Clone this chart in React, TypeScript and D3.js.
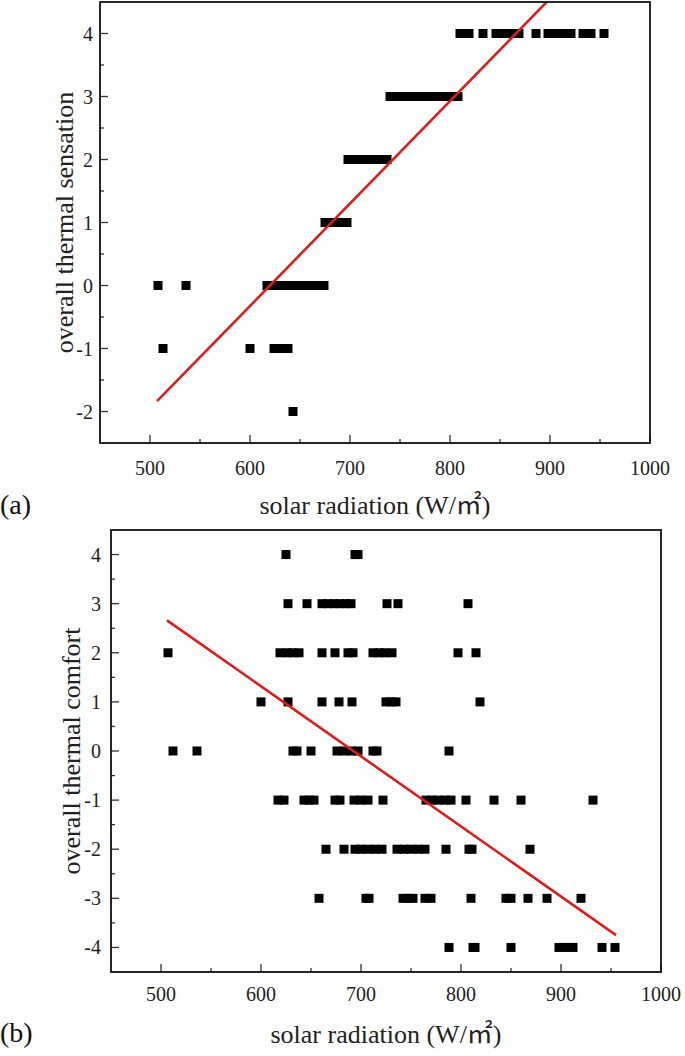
import React from "react";
import * as d3 from "d3";

// ---------- data ----------
const xTicks = [500, 600, 700, 800, 900, 1000];
const xMinorTicks = [550, 650, 750, 850, 950];
const sensationTicks = [-2, -1, 0, 1, 2, 3, 4];
const comfortTicks = [-4, -3, -2, -1, 0, 1, 2, 3, 4];

// (a) overall thermal sensation: solar radiation values per sensation level
const sensation4 = [810, 815, 819, 833, 846, 852, 858, 864, 869, 886, 898, 904, 910, 916, 921, 933, 937, 941, 954];
const sensation3 = [740, 746, 752, 758, 764, 770, 776, 782, 788, 794, 800, 806, 808];
const sensation2 = [698, 704, 710, 716, 722, 728, 734, 737];
const sensation1 = [675, 681, 687, 693, 697];
const sensation0 = [508, 536, 617, 623, 629, 635, 641, 647, 653, 659, 665, 671, 674];
const sensationM1 = [513, 600, 624, 631, 638];
const sensationM2 = [643];
const sensationLevels = [4, 3, 2, 1, 0, -1, -2];
const sensationRows = [sensation4, sensation3, sensation2, sensation1, sensation0, sensationM1, sensationM2];
const sensationFit = { slope: 0.01626, intercept: -10.08, x0: 507, x1: 955 };

// (b) overall thermal comfort
const comfort4 = [625, 694, 697];
const comfort3 = [627, 646, 661, 667, 673, 679, 685, 690, 726, 737, 807];
const comfort2 = [507, 619, 626, 632, 638, 661, 674, 687, 692, 712, 718, 724, 731, 797, 815];
const comfort1 = [600, 627, 661, 678, 691, 725, 730, 735, 819];
const comfort0 = [512, 536, 632, 636, 650, 676, 683, 690, 697, 712, 716, 788];
const comfortM1 = [617, 623, 643, 648, 653, 674, 679, 693, 700, 707, 722, 765, 771, 777, 784, 790, 805, 833, 860, 932];
const comfortM2 = [665, 683, 694, 700, 707, 714, 721, 736, 743, 750, 757, 764, 785, 808, 811, 869];
const comfortM3 = [658, 705, 708, 742, 747, 752, 764, 770, 810, 845, 850, 867, 886, 920];
const comfortM4 = [788, 812, 814, 850, 898, 905, 912, 941, 954];
const comfortLevels = [4, 3, 2, 1, 0, -1, -2, -3, -4];
const comfortRows = [comfort4, comfort3, comfort2, comfort1, comfort0, comfortM1, comfortM2, comfortM3, comfortM4];
const comfortFit = { slope: -0.01427, intercept: 9.88, x0: 506, x1: 955 };

const SERIF = '"Liberation Serif", "Times New Roman", "Noto Sans CJK SC", serif';

type PanelProps = {
  id: string;
  left: number;
  right: number;
  top: number;
  bottom: number;
  yDomain: [number, number];
  yTicks: number[];
  levels: number[];
  rows: number[][];
  fit: { slope: number; intercept: number; x0: number; x1: number };
  yTitle: string;
  yTitleX: number;
  yLabelX: number;
  xLabelY: number;
  xTitleY: number;
  tag: string;
  tagY: number;
};

function Panel(p: PanelProps) {
  const x = d3.scaleLinear().domain([450, 1000]).range([p.left, p.right]);
  const y = d3.scaleLinear().domain(p.yDomain).range([p.bottom, p.top]);
  const yMinor = p.yTicks.slice(0, -1).map((t) => t + 0.5);
  const lineGen = d3
    .line<number>()
    .x((v) => x(v))
    .y((v) => y(p.fit.slope * v + p.fit.intercept));
  const size = 9;
  const clipId = `clip-${p.id}`;
  return (
    <g>
      <defs>
        <clipPath id={clipId}>
          <rect x={p.left} y={p.top} width={p.right - p.left} height={p.bottom - p.top} />
        </clipPath>
      </defs>
      <g fill="#000">
        {p.rows.map((row, i) =>
          row.map((v, j) => (
            <rect key={`${i}-${j}`} x={x(v) - size / 2} y={y(p.levels[i]) - size / 2} width={size} height={size} />
          ))
        )}
      </g>
      <path
        d={lineGen([p.fit.x0, p.fit.x1]) || ""}
        stroke="#d81e1e"
        strokeWidth={2.6}
        fill="none"
        clipPath={`url(#${clipId})`}
      />
      <g stroke="#333" strokeWidth={1.3}>
        {p.yTicks.map((t) => (
          <line key={`yt${t}`} x1={p.left} x2={p.left + 8} y1={y(t)} y2={y(t)} />
        ))}
        {yMinor.map((t) => (
          <line key={`ym${t}`} x1={p.left} x2={p.left + 4} y1={y(t)} y2={y(t)} />
        ))}
        {xTicks.map((t) => (
          <line key={`xt${t}`} x1={x(t)} x2={x(t)} y1={p.bottom} y2={p.bottom - 8} />
        ))}
        {xMinorTicks.map((t) => (
          <line key={`xm${t}`} x1={x(t)} x2={x(t)} y1={p.bottom} y2={p.bottom - 4} />
        ))}
      </g>
      <rect
        x={p.left}
        y={p.top}
        width={p.right - p.left}
        height={p.bottom - p.top}
        fill="none"
        stroke="#111"
        strokeWidth={1.8}
      />
      <g fontFamily={SERIF} fontSize={20} fill="#222">
        {p.yTicks.map((t) => (
          <text key={`yl${t}`} x={p.yLabelX} y={y(t)} dy="0.35em" textAnchor="end">
            {t}
          </text>
        ))}
        {xTicks.map((t) => (
          <text key={`xl${t}`} x={x(t)} y={p.xLabelY} textAnchor="middle">
            {t}
          </text>
        ))}
      </g>
      <text
        transform={`translate(${p.yTitleX},${(p.top + p.bottom) / 2}) rotate(-90)`}
        textAnchor="middle"
        fontFamily={SERIF}
        fontSize={26}
        fill="#222"
      >
        {p.yTitle}
      </text>
      <text x={(p.left + p.right) / 2} y={p.xTitleY} textAnchor="middle" fontFamily={SERIF} fontSize={26} fill="#222">
        solar radiation (W/㎡)
      </text>
      <text x={0} y={p.tagY} fontFamily={SERIF} fontSize={28} fill="#111">
        {p.tag}
      </text>
    </g>
  );
}

export default function App() {
  return (
    <svg width={685} height={1056} style={{ position: "absolute", left: 0, top: 0, background: "#fff" }}>
      <rect width={685} height={1056} fill="#fff" />
      <Panel
        id="a"
        left={100}
        right={650}
        top={2}
        bottom={443}
        yDomain={[-2.5, 4.5]}
        yTicks={sensationTicks}
        levels={sensationLevels}
        rows={sensationRows}
        fit={sensationFit}
        yTitle="overall thermal sensation"
        yTitleX={73}
        yLabelX={93}
        xLabelY={475}
        xTitleY={514}
        tag="(a)"
        tagY={514}
      />
      <Panel
        id="b"
        left={111}
        right={661}
        top={530}
        bottom={972}
        yDomain={[-4.5, 4.5]}
        yTicks={comfortTicks}
        levels={comfortLevels}
        rows={comfortRows}
        fit={comfortFit}
        yTitle="overall thermal comfort"
        yTitleX={80}
        yLabelX={101}
        xLabelY={1001}
        xTitleY={1043}
        tag="(b)"
        tagY={1042}
      />
    </svg>
  );
}
